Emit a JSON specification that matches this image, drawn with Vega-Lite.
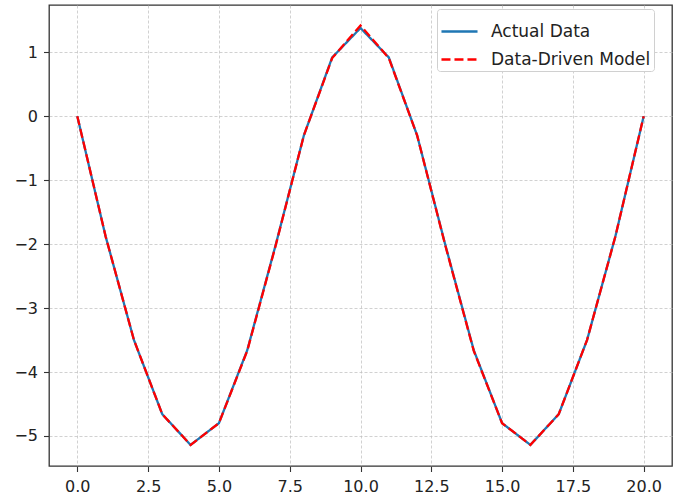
{
  "$schema": "https://vega.github.io/schema/vega-lite/v6.json",
  "width": 623,
  "height": 461,
  "autosize": {"type": "none"},
  "padding": {"left": 49, "top": 5, "right": 9, "bottom": 33},
  "background": "white",
  "config": {
    "font": "DejaVu Sans",
    "view": {"stroke": "#333333", "strokeWidth": 1.3},
    "axis": {
      "labelFont": "DejaVu Sans",
      "labelFontSize": 16,
      "labelColor": "#222222",
      "domain": false,
      "tickColor": "#333333",
      "tickSize": 5.5,
      "tickWidth": 1.1,
      "grid": true,
      "gridColor": "#bdbdbd",
      "gridDash": [3, 2],
      "gridWidth": 0.7,
      "title": null
    },
    "legend": {
      "title": null,
      "orient": "none",
      "legendX": 388,
      "legendY": 8,
      "symbolType": "stroke",
      "symbolSize": 1300,
      "symbolStrokeWidth": 2.3,
      "labelFontSize": 17,
      "labelFont": "DejaVu Sans",
      "labelColor": "#222222",
      "labelOffset": 12,
      "rowPadding": 0,
      "padding": 5,
      "symbolLimit": 0,
      "strokeColor": "#d0d0d0",
      "fillColor": "white",
      "cornerRadius": 3
    }
  },
  "data": {
    "values": [
      {"x": 0, "y": 0, "series": "Actual Data"},
      {"x": 1, "y": -1.88, "series": "Actual Data"},
      {"x": 2, "y": -3.5, "series": "Actual Data"},
      {"x": 3, "y": -4.66, "series": "Actual Data"},
      {"x": 4, "y": -5.14, "series": "Actual Data"},
      {"x": 5, "y": -4.8, "series": "Actual Data"},
      {"x": 6, "y": -3.66, "series": "Actual Data"},
      {"x": 7, "y": -2.02, "series": "Actual Data"},
      {"x": 8, "y": -0.3, "series": "Actual Data"},
      {"x": 9, "y": 0.92, "series": "Actual Data"},
      {"x": 10, "y": 1.38, "series": "Actual Data"},
      {"x": 11, "y": 0.92, "series": "Actual Data"},
      {"x": 12, "y": -0.3, "series": "Actual Data"},
      {"x": 13, "y": -2.02, "series": "Actual Data"},
      {"x": 14, "y": -3.66, "series": "Actual Data"},
      {"x": 15, "y": -4.8, "series": "Actual Data"},
      {"x": 16, "y": -5.14, "series": "Actual Data"},
      {"x": 17, "y": -4.66, "series": "Actual Data"},
      {"x": 18, "y": -3.5, "series": "Actual Data"},
      {"x": 19, "y": -1.88, "series": "Actual Data"},
      {"x": 20, "y": 0, "series": "Actual Data"},
      {"x": 0, "y": 0, "series": "Data-Driven Model"},
      {"x": 1, "y": -1.88, "series": "Data-Driven Model"},
      {"x": 2, "y": -3.5, "series": "Data-Driven Model"},
      {"x": 3, "y": -4.66, "series": "Data-Driven Model"},
      {"x": 4, "y": -5.14, "series": "Data-Driven Model"},
      {"x": 5, "y": -4.8, "series": "Data-Driven Model"},
      {"x": 6, "y": -3.67, "series": "Data-Driven Model"},
      {"x": 7, "y": -2.03, "series": "Data-Driven Model"},
      {"x": 8, "y": -0.3, "series": "Data-Driven Model"},
      {"x": 9, "y": 0.91, "series": "Data-Driven Model"},
      {"x": 10, "y": 1.42, "series": "Data-Driven Model"},
      {"x": 11, "y": 0.91, "series": "Data-Driven Model"},
      {"x": 12, "y": -0.3, "series": "Data-Driven Model"},
      {"x": 13, "y": -2.03, "series": "Data-Driven Model"},
      {"x": 14, "y": -3.67, "series": "Data-Driven Model"},
      {"x": 15, "y": -4.8, "series": "Data-Driven Model"},
      {"x": 16, "y": -5.14, "series": "Data-Driven Model"},
      {"x": 17, "y": -4.66, "series": "Data-Driven Model"},
      {"x": 18, "y": -3.5, "series": "Data-Driven Model"},
      {"x": 19, "y": -1.88, "series": "Data-Driven Model"},
      {"x": 20, "y": 0, "series": "Data-Driven Model"}
    ]
  },
  "encoding": {
    "x": {
      "field": "x",
      "type": "quantitative",
      "scale": {"domain": [-1, 21], "nice": false, "zero": false},
      "axis": {"values": [0, 2.5, 5, 7.5, 10, 12.5, 15, 17.5, 20], "format": ".1f", "labelPadding": 7}
    },
    "y": {
      "field": "y",
      "type": "quantitative",
      "scale": {"domain": [-5.47, 1.74], "nice": false, "zero": false},
      "axis": {"values": [-5, -4, -3, -2, -1, 0, 1], "format": "d", "labelPadding": 6}
    },
    "color": {
      "field": "series",
      "type": "nominal",
      "scale": {"domain": ["Actual Data", "Data-Driven Model"], "range": ["#1f77b4", "#ff0000"]}
    },
    "strokeDash": {
      "field": "series",
      "type": "nominal",
      "scale": {"domain": ["Actual Data", "Data-Driven Model"], "range": [[1, 0], [9, 4]]},
      "legend": {"rowPadding": -4, "padding": 3, "legendY": 4}
    }
  },
  "layer": [
    {
      "transform": [{"filter": "datum.series === 'Actual Data'"}],
      "mark": {"type": "line", "strokeWidth": 2.3}
    },
    {
      "transform": [{"filter": "datum.series === 'Data-Driven Model'"}],
      "mark": {"type": "line", "strokeWidth": 2.3}
    }
  ]
}
